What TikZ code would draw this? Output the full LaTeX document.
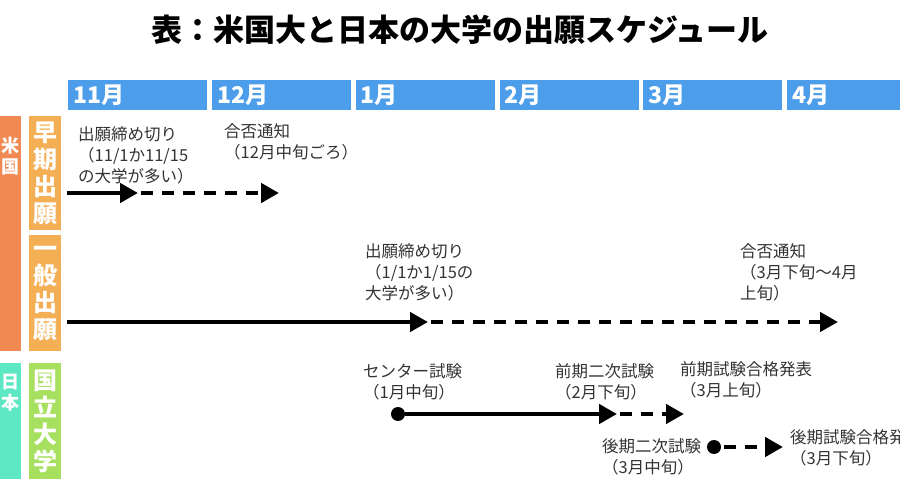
\documentclass[tikz,border=0pt]{standalone}
\usepackage{fontspec}
\setmainfont{Noto Sans CJK JP}
\usetikzlibrary{positioning}
\usetikzlibrary{arrows.meta}
\usetikzlibrary{graphs}
\definecolor{monthblue}{HTML}{4C9DEA}
\definecolor{usorange}{HTML}{F08A52}
\definecolor{appyellow}{HTML}{F4AF55}
\definecolor{jpteal}{HTML}{5DE8C3}
\definecolor{natgreen}{HTML}{A6E05E}

\begin{document}
\begin{tikzpicture}[x=1pt,y=-1pt,node distance=4.4pt,
      >={Triangle[length=18pt,width=19pt]},
      month/.style={fill=monthblue,text=white,font=\fontsize{23}{23}\selectfont\bfseries,
        minimum height=30pt,text width=129pt,inner xsep=5pt,inner ysep=0pt,align=left},
      bar/.style={rectangle,inner sep=0pt,text=white,align=center,
        font=\fontsize{24}{27}\selectfont\bfseries},
      note/.style={anchor=north west,inner sep=0pt,align=left,text=black!80,
        font=\fontsize{16.5}{21}\selectfont},
      fat/.style={line width=4.5pt},
      gap/.style={dash pattern=on 12pt off 9pt,shorten <=3pt},
      dot/.style={circle,fill=black,inner sep=0pt,minimum size=14pt}]
\useasboundingbox (0,0) rectangle (900,502);
% title
\node (title) at (460,30) {\fontsize{31}{31}\selectfont\bfseries 表：米国大と日本の大学の出願スケジュール};
% months
\node (m11) [month,anchor=north west] at (68,80) {11月};
\node (m12) [month,right=of m11] {12月};
\node (m1) [month,right=of m12] {1月};
\node (m2) [month,right=of m1] {2月};
\node (m3) [month,right=of m2] {3月};
\node (m4) [month,right=of m3] {4月};
% left bars
\node (us) [bar,fill=usorange,minimum width=21pt,minimum height=235pt,anchor=north west] at (0,116) {};
\node (usname) [bar,font=\fontsize{18}{21}\selectfont\bfseries,anchor=north] at (10.5,137) {米\\国};
\node (jp) [bar,fill=jpteal,minimum width=21pt,minimum height=116pt,anchor=north west] at (0,363) {};
\node (jpname) [bar,font=\fontsize{18}{21}\selectfont\bfseries,anchor=north] at (10.5,374) {日\\本};
\node (early) [bar,fill=appyellow,minimum width=32pt,minimum height=114pt,anchor=north west] at (29,116) {早\\期\\出\\願};
\node (regular) [bar,fill=appyellow,minimum width=32pt,minimum height=116pt,anchor=north west] at (29,235) {一\\般\\出\\願};
\node (national) [bar,fill=natgreen,minimum width=32pt,minimum height=116pt,anchor=north west] at (29,363) {国\\立\\大\\学};
% labels
\node (earlydl) [note] at (78,126) {出願締め切り\\（11/1か11/15\\の大学が多い）};
\node (earlyok) [note] at (224,123) {合否通知\\（12月中旬ごろ）};
\node (regdl) [note] at (365,243) {出願締め切り\\（1/1か1/15の\\大学が多い）};
\node (regok) [note] at (740,243) {合否通知\\（3月下旬～4月\\上旬）};
\node (center) [note] at (363,363) {センター試験\\（1月中旬）};
\node (first) [note] at (555,363) {前期二次試験\\（2月下旬）};
\node (firstok) [note] at (680,361) {前期試験合格発表\\（3月上旬）};
\node (second) [note] at (602,438) {後期二次試験\\（3月中旬）};
\node (secondok) [note] at (790,429) {後期試験合格発表\\（3月下旬）};
% arrows
\coordinate (a1) at (67,193);
\coordinate (a2) at (138,193);
\coordinate (a3) at (279,193);
\coordinate (b1) at (67,322);
\coordinate (b2) at (428,322);
\coordinate (b3) at (838,322);
\node (c1) [dot] at (398,414) {};
\coordinate (c2) at (617,414);
\coordinate (c3) at (684,414);
\node (d1) [dot] at (714,447) {};
\coordinate (d2) at (783,447);
\graph {
  (a1) ->[fat] (a2) ->[fat,gap] (a3);
  (b1) ->[fat] (b2) ->[fat,gap] (b3);
  (c1) ->[fat] (c2) ->[fat,gap] (c3);
  (d1) ->[fat,gap] (d2);
};
\end{tikzpicture}
\end{document}
